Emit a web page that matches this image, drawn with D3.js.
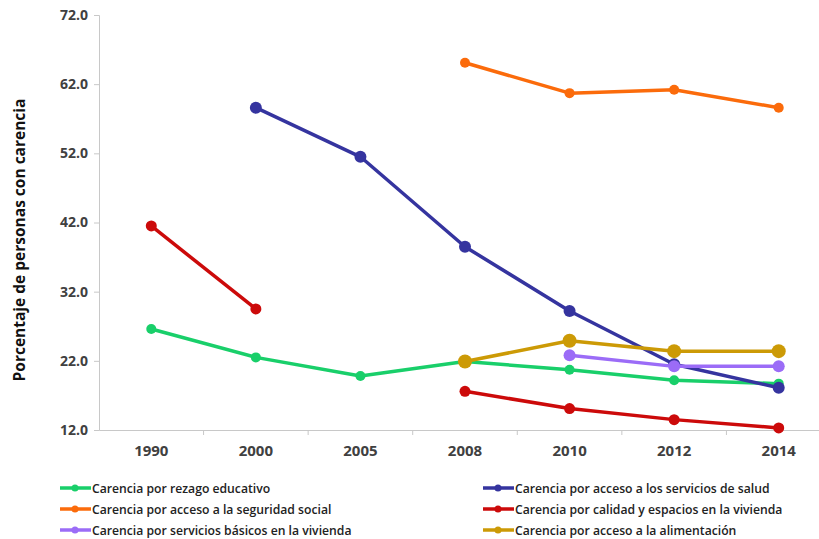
<!DOCTYPE html>
<html>
<head>
<meta charset="utf-8">
<script src="https://cdn.jsdelivr.net/npm/d3@7"></script>
<style>
  body { margin: 0; background: #fff; }
  svg { display: block; }
</style>
</head>
<body>
<svg id="chart"></svg>
<script>
const years = ["1990", "2000", "2005", "2008", "2010", "2012", "2014"];
const yTicks = [12, 22, 32, 42, 52, 62, 72];

const rezago    = [26.6, 22.5, 19.8, 21.9, 20.7, 19.2, 18.7];
const salud     = [null, 58.6, 51.5, 38.5, 29.2, 21.5, 18.1];
const seguridad = [null, null, null, 65.1, 60.7, 61.2, 58.6];
const calidad   = [41.5, 29.5, null, 17.6, 15.1, 13.5, 12.3];
const basicos   = [null, null, null, null, 22.8, 21.2, 21.2];
const alimento  = [null, null, null, 21.9, 24.9, 23.4, 23.4];

const series = [
  { name: "Carencia por rezago educativo", values: rezago, color: "#19cf6a", r: 5 },
  { name: "Carencia por acceso a los servicios de salud", values: salud, color: "#35349f", r: 6 },
  { name: "Carencia por acceso a la seguridad social", values: seguridad, color: "#fb6b0b", r: 5 },
  { name: "Carencia por calidad y espacios en la vivienda", values: calidad, color: "#cc0a0a", r: 5.5 },
  { name: "Carencia por servicios básicos en la vivienda", values: basicos, color: "#9b6cf7", r: 6 },
  { name: "Carencia por acceso a la alimentación", values: alimento, color: "#cc9a06", r: 7 }
];

const width = 819, height = 539;
const svg = d3.select("#chart").attr("width", width).attr("height", height);

const x = d3.scaleBand().domain(years).range([99, 831]);
const y = d3.scaleLinear().domain([12, 72]).range([430, 15]);
const cx = d => x(d) + x.bandwidth() / 2;

// y axis
const yAxis = svg.append("g")
  .attr("transform", "translate(99,0)")
  .call(d3.axisLeft(y).tickValues(yTicks).tickFormat(d3.format(".1f")).tickSize(5).tickPadding(6));
yAxis.select(".domain").attr("stroke", "#c8c8c8");
yAxis.selectAll(".tick line").attr("stroke", "#c8c8c8");
yAxis.selectAll("text")
  .style("font-family", "Open Sans, sans-serif")
  .style("font-size", "14px")
  .style("font-weight", "bold")
  .style("fill", "#404040");

// x axis
const xAxis = svg.append("g")
  .attr("transform", "translate(0,430)")
  .call(d3.axisBottom(x).tickSize(0).tickPadding(15));
xAxis.select(".domain").attr("stroke", "#c8c8c8");
xAxis.selectAll("text")
  .style("font-family", "Open Sans, sans-serif")
  .style("font-size", "15px")
  .style("font-weight", "bold")
  .style("fill", "#404040");
// category separators
svg.append("g").selectAll("line")
  .data(years.slice(1))
  .enter().append("line")
  .attr("x1", d => x(d)).attr("x2", d => x(d))
  .attr("y1", 430).attr("y2", 435)
  .attr("stroke", "#c8c8c8");

// y title
svg.append("text")
  .attr("transform", "translate(25,240) rotate(-90)")
  .attr("text-anchor", "middle")
  .style("font-family", "Open Sans, sans-serif")
  .style("font-size", "15.5px")
  .style("font-weight", "bold")
  .style("fill", "#111")
  .text("Porcentaje de personas con carencia");

const line = d3.line()
  .defined(d => d.v !== null)
  .x(d => cx(d.year))
  .y(d => y(d.v));

const plot = svg.append("g");
series.forEach(s => {
  const pts = years.map((yr, i) => ({ year: yr, v: s.values[i] }));
  plot.append("path")
    .datum(pts)
    .attr("d", line)
    .attr("fill", "none")
    .attr("stroke", s.color)
    .attr("stroke-width", 3.5)
    .attr("stroke-linejoin", "round");
  plot.selectAll(null)
    .data(pts.filter(d => d.v !== null))
    .enter().append("circle")
    .attr("cx", d => cx(d.year))
    .attr("cy", d => y(d.v))
    .attr("r", s.r)
    .attr("fill", s.color);
});

// legend
const legendCols = [60, 483];
const legendRows = [488, 509, 530];
const legend = svg.append("g");
series.forEach((s, i) => {
  const lx = legendCols[i % 2];
  const ly = legendRows[Math.floor(i / 2)];
  const g = legend.append("g").attr("transform", "translate(" + lx + "," + ly + ")");
  g.append("line").attr("x1", 0).attr("x2", 31).attr("y1", 0).attr("y2", 0)
    .attr("stroke", s.color).attr("stroke-width", 3.5);
  g.append("circle").attr("cx", 15).attr("cy", 0).attr("r", 3.5).attr("fill", s.color);
  g.append("text")
    .attr("x", 32).attr("y", 4.5)
    .style("font-family", "Open Sans, sans-serif")
    .style("font-size", "12.2px")
    .style("font-weight", "600")
    .style("fill", "#222")
    .text(s.name);
});
</script>
</body>
</html>
